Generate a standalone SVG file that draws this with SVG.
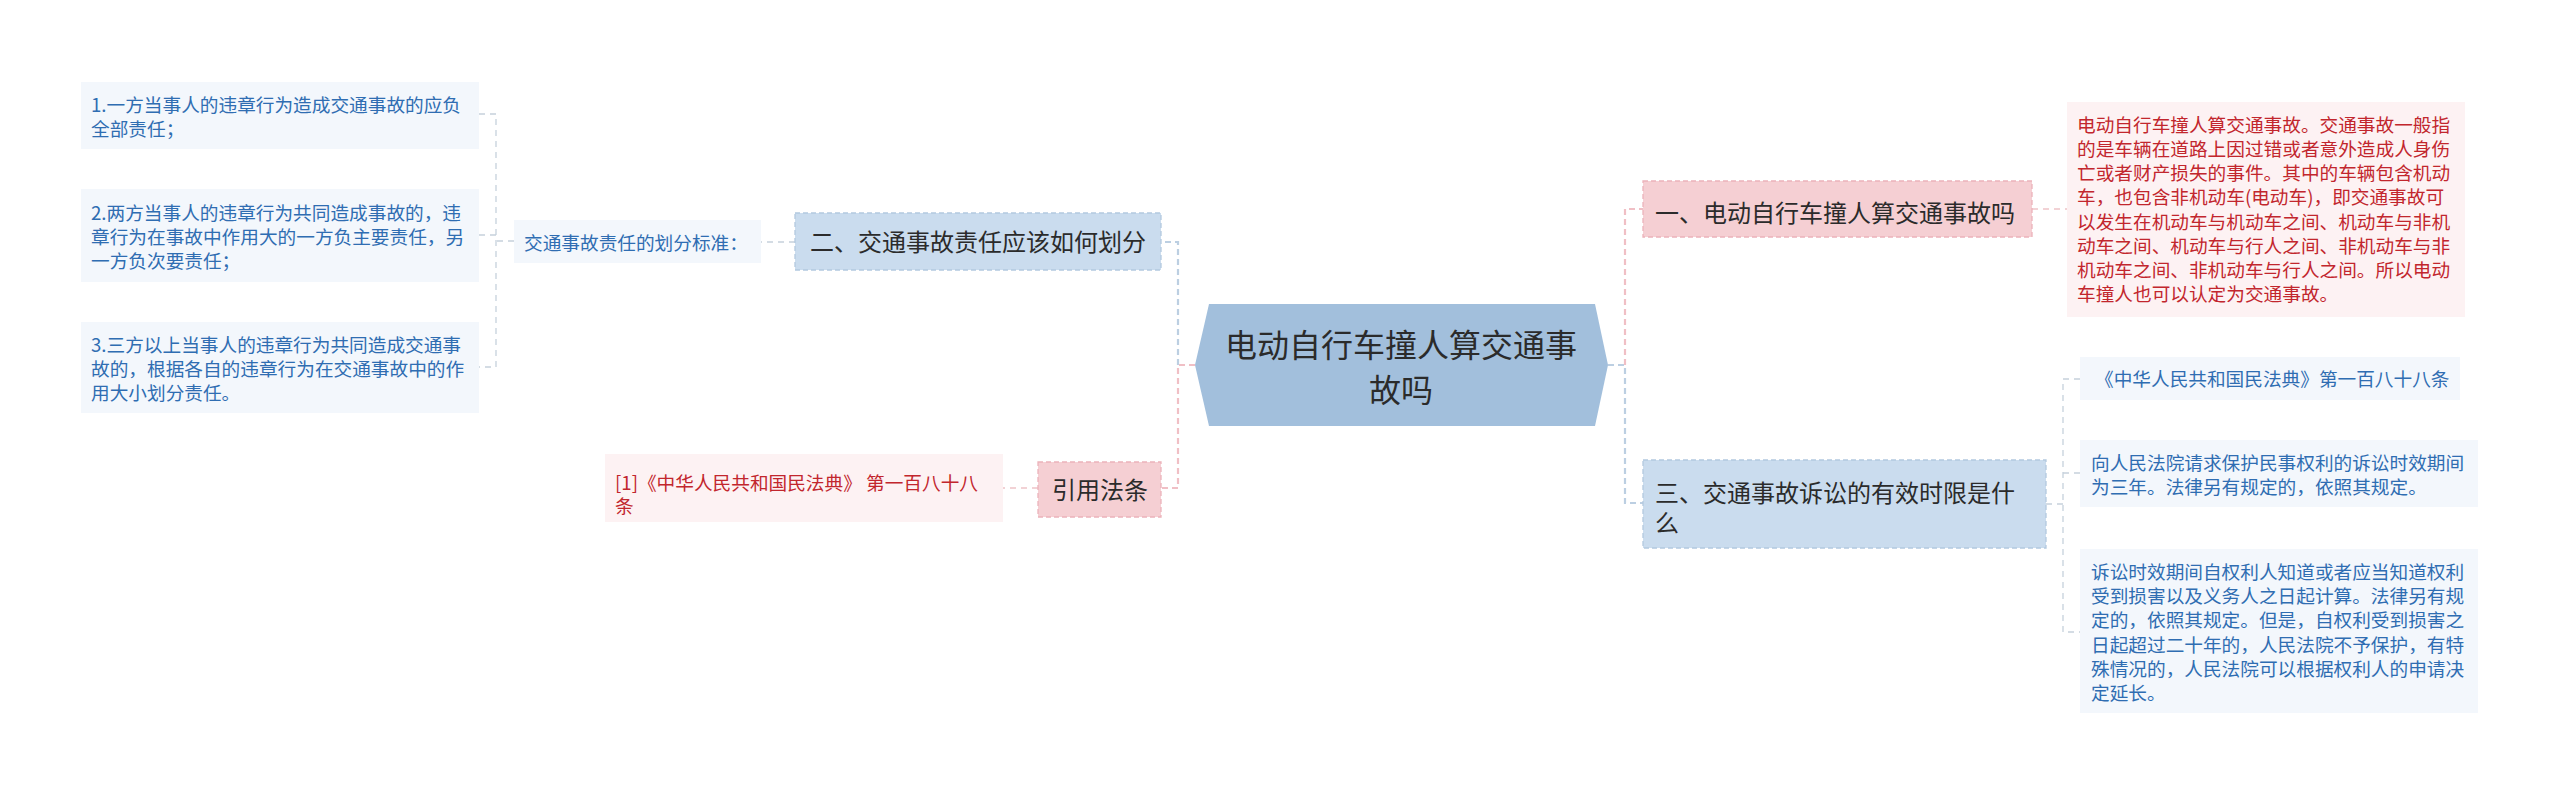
<svg xmlns="http://www.w3.org/2000/svg" width="2560" height="795" viewBox="0 0 2560 795">
<style>
text{font-family:"Noto Sans CJK SC","Noto Sans",sans-serif}
.main{font-size:32px;fill:#2b2b2b;text-anchor:middle}
.l1{font-size:24px;fill:#2b2b2b}
.lf{font-size:18.67px}
.tb{fill:#2f6db2}
.tr{fill:#c2262d}
.nb{fill:#cadcee;stroke:#b3c9df;stroke-width:1.3;stroke-dasharray:5 3}
.np{fill:#f5cfd3;stroke:#ecb3ba;stroke-width:1.3;stroke-dasharray:5 3}
.lb{fill:#f3f7fc}
.lr{fill:#fdf2f3}
.cb{fill:none;stroke:#bccfe2;stroke-width:2.2;stroke-dasharray:6 4}
.cp{fill:none;stroke:#f0bfc5;stroke-width:2.2;stroke-dasharray:6 4}
.tcb{fill:none;stroke:#c6d1dc;stroke-width:1.3;stroke-dasharray:6 5}
.tcp{fill:none;stroke:#eec3c8;stroke-width:1.3;stroke-dasharray:6 5}
</style>
<rect width="2560" height="795" fill="#ffffff"/>
<g id="connectors">
<path class="cp" d="M1195 365 H1178 V488 H1162"/>
<path class="cb" d="M1178 365 V242 H1161"/>
<path class="tcb" d="M795 242 H761"/>
<path class="tcb" d="M514 241 H496 M479 114 H496 V367 H479 M479 235 H496"/>
<path class="tcp" d="M1038 488 H1003"/>
<path class="cb" d="M1608 365 H1625 V503 H1643"/>
<path class="cp" d="M1625 365 V209 H1643"/>
<path class="tcp" d="M2032 209 H2067"/>
<path class="tcb" d="M2046 504 H2063 M2080 379 H2063 V632 H2080 M2063 473 H2080"/>
</g>
<g id="center">
<polygon points="1195,365 1209,304 1595,304 1608,365 1595,426 1209,426" fill="#a2bfdc"/>
<text class="main" x="1401" y="357">电动自行车撞人算交通事</text>
<text class="main" x="1401" y="402">故吗</text>
</g>
<g id="n-er">
<rect class="nb" x="795" y="213" width="366" height="57"/>
<text class="l1" x="978" y="251" text-anchor="middle">二、交通事故责任应该如何划分</text>
</g>
<g id="n-biaozhun">
<rect class="lb" x="514" y="220" width="247" height="43"/>
<text class="lf tb" x="524" y="250">交通事故责任的划分标准：</text>
</g>
<g id="leaf-l1">
<rect class="lb" x="81" y="82" width="398" height="67"/>
<text class="lf tb" x="91" y="112">1.一方当事人的违章行为造成交通事故的应负</text>
<text class="lf tb" x="91" y="136">全部责任；</text>
</g>
<g id="leaf-l2">
<rect class="lb" x="81" y="189" width="398" height="93"/>
<text class="lf tb" x="91" y="220">2.两方当事人的违章行为共同造成事故的，违</text>
<text class="lf tb" x="91" y="244">章行为在事故中作用大的一方负主要责任，另</text>
<text class="lf tb" x="91" y="268">一方负次要责任；</text>
</g>
<g id="leaf-l3">
<rect class="lb" x="81" y="322" width="398" height="91"/>
<text class="lf tb" x="91" y="352">3.三方以上当事人的违章行为共同造成交通事</text>
<text class="lf tb" x="91" y="376">故的，根据各自的违章行为在交通事故中的作</text>
<text class="lf tb" x="91" y="400">用大小划分责任。</text>
</g>
<g id="n-yinyong">
<rect class="np" x="1038" y="462" width="123" height="55"/>
<text class="l1" x="1100" y="499" text-anchor="middle">引用法条</text>
</g>
<g id="leaf-ref">
<rect class="lr" x="605" y="454" width="398" height="68"/>
<text class="lf tr" x="615" y="490">[1]《中华人民共和国民法典》 第一百八十八</text>
<text class="lf tr" x="615" y="513">条</text>
</g>
<g id="n-yi">
<rect class="np" x="1643" y="181" width="389" height="56"/>
<text class="l1" x="1655" y="222">一、电动自行车撞人算交通事故吗</text>
</g>
<g id="leaf-r1">
<rect class="lr" x="2067" y="102" width="398" height="215"/>
<text class="lf tr" x="2077" y="132">电动自行车撞人算交通事故。交通事故一般指</text>
<text class="lf tr" x="2077" y="156">的是车辆在道路上因过错或者意外造成人身伤</text>
<text class="lf tr" x="2077" y="180">亡或者财产损失的事件。其中的车辆包含机动</text>
<text class="lf tr" x="2077" y="204">车，也包含非机动车(电动车)，即交通事故可</text>
<text class="lf tr" x="2077" y="229">以发生在机动车与机动车之间、机动车与非机</text>
<text class="lf tr" x="2077" y="253">动车之间、机动车与行人之间、非机动车与非</text>
<text class="lf tr" x="2077" y="277">机动车之间、非机动车与行人之间。所以电动</text>
<text class="lf tr" x="2077" y="301">车撞人也可以认定为交通事故。</text>
</g>
<g id="n-san">
<rect class="nb" x="1643" y="460" width="403" height="88"/>
<text class="l1" x="1655" y="502">三、交通事故诉讼的有效时限是什</text>
<text class="l1" x="1655" y="532">么</text>
</g>
<g id="leaf-r2">
<rect class="lb" x="2080" y="357" width="380" height="43"/>
<text class="lf tb" x="2095" y="386">《中华人民共和国民法典》第一百八十八条</text>
</g>
<g id="leaf-r3">
<rect class="lb" x="2080" y="440" width="398" height="67"/>
<text class="lf tb" x="2091" y="470">向人民法院请求保护民事权利的诉讼时效期间</text>
<text class="lf tb" x="2091" y="494">为三年。法律另有规定的，依照其规定。</text>
</g>
<g id="leaf-r4">
<rect class="lb" x="2080" y="549" width="398" height="164"/>
<text class="lf tb" x="2091" y="579">诉讼时效期间自权利人知道或者应当知道权利</text>
<text class="lf tb" x="2091" y="603">受到损害以及义务人之日起计算。法律另有规</text>
<text class="lf tb" x="2091" y="627">定的，依照其规定。但是，自权利受到损害之</text>
<text class="lf tb" x="2091" y="652">日起超过二十年的，人民法院不予保护，有特</text>
<text class="lf tb" x="2091" y="676">殊情况的，人民法院可以根据权利人的申请决</text>
<text class="lf tb" x="2091" y="700">定延长。</text>
</g>
</svg>
